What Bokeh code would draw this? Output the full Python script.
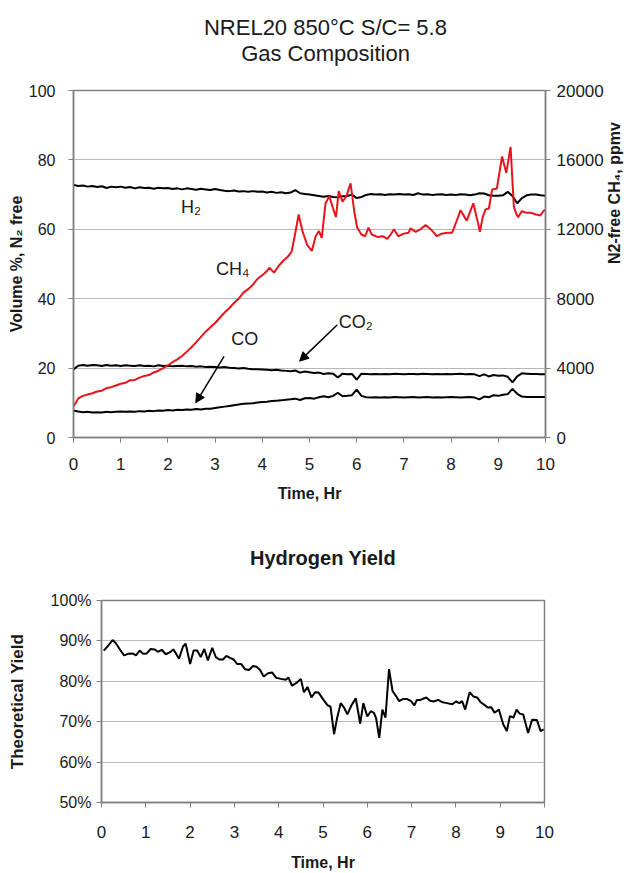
import math
from bokeh.plotting import figure
from bokeh.models import (Range1d, LinearAxis, Title, Label, Arrow, NormalHead,
                          FixedTicker, PrintfTickFormatter)
from bokeh.layouts import column, row
from bokeh.embed import file_html
from bokeh.resources import INLINE

# ---------------- data ----------------
# Gas composition, volume % (N2 free), sampled every 0.1 h
time_hr = [round(i * 0.1, 1) for i in range(101)]
h2_pct = [72.8, 72.5, 72.6, 72.3, 72.5, 72.2, 72.4, 71.9, 72.3, 72.1,
          72.3, 72.0, 72.2, 71.8, 72.1, 71.9, 72.0, 71.7, 72.0, 71.8,
          71.9, 71.6, 71.8, 71.5, 71.8, 71.6, 71.4, 71.7, 71.5, 71.3,
          71.6, 71.3, 71.1, 71.0, 71.2, 70.9, 71.0, 70.8, 71.0, 70.8,
          70.9, 70.6, 70.8, 70.5, 70.7, 70.4, 70.6, 71.3, 70.4, 70.2,
          70.0, 69.8, 69.6, 69.4, 69.6, 69.3, 69.2, 69.5, 69.6, 70.0,
          69.0, 69.3, 69.9, 70.2, 70.0, 70.1, 69.9, 70.1, 70.0, 70.2,
          70.0, 70.1, 69.9, 70.4, 70.0, 70.1, 69.9, 70.0, 70.1, 69.9,
          70.0, 69.9, 70.1, 70.0, 69.8, 70.0, 70.4, 70.3, 69.8, 69.7,
          69.7, 69.8, 70.8, 69.6, 67.5, 69.0, 69.8, 70.0, 70.0, 69.8, 69.7]
co2_pct = [19.6, 20.7, 20.9, 20.7, 20.9, 20.8, 20.6, 20.9, 20.7, 20.8,
           20.6, 20.8, 20.7, 20.6, 20.8, 20.6, 20.7, 20.5, 20.8, 20.6,
           20.7, 20.5, 20.6, 20.7, 20.5, 20.6, 20.4, 20.5, 20.3, 20.4,
           20.3, 20.2, 20.3, 20.1, 20.0, 19.9, 20.0, 19.8, 19.7, 19.7,
           19.6, 19.5, 19.4, 19.5, 19.3, 19.2, 19.1, 19.3, 18.7, 19.0,
           18.8, 18.6, 18.7, 18.3, 18.5, 18.4, 17.3, 18.4, 18.2, 18.3,
           16.7, 18.4, 18.3, 18.2, 18.3, 18.2, 18.3, 18.2, 18.4, 18.3,
           18.2, 18.3, 18.3, 18.2, 18.4, 18.3, 18.2, 18.3, 18.2, 18.3,
           18.2, 18.3, 18.4, 18.2, 18.3, 18.2, 17.7, 18.2, 17.6, 18.0,
           17.8, 17.9, 17.5, 15.9, 17.6, 18.5, 18.4, 18.3, 18.3, 18.2, 18.2]
co_pct = [7.8, 7.5, 7.3, 7.4, 7.2, 7.3, 7.2, 7.4, 7.3, 7.4,
          7.5, 7.4, 7.5, 7.4, 7.6, 7.5, 7.7, 7.6, 7.8, 7.7,
          7.9, 7.8, 8.0, 7.9, 8.1, 8.0, 8.2, 8.1, 8.3, 8.3,
          8.5, 8.7, 8.9, 9.1, 9.3, 9.5, 9.7, 9.8, 9.9, 10.1,
          10.2, 10.3, 10.5, 10.6, 10.7, 10.9, 11.0, 11.2, 10.8, 11.3,
          11.4, 11.2, 11.6, 11.9, 11.6, 12.0, 12.9, 11.9, 12.0, 12.2,
          13.8, 12.0, 11.6, 11.5, 11.6, 11.5, 11.6, 11.5, 11.7, 11.6,
          11.5, 11.6, 11.7, 11.5, 11.6, 11.7, 11.5, 11.6, 11.5, 11.6,
          11.7, 11.6, 11.5, 11.6, 11.7, 11.5, 11.0, 11.8, 11.6, 12.2,
          12.0, 12.3, 12.5, 14.0, 12.6, 11.8, 11.7, 11.7, 11.7, 11.7, 11.7]

# N2-free CH4, ppmv
ch4_time = [0.0, 0.05, 0.1, 0.2, 0.3, 0.4, 0.5, 0.6, 0.7, 0.8, 0.9, 1.0, 1.1, 1.2,
            1.3, 1.4, 1.5, 1.6, 1.7, 1.8, 1.9, 2.0, 2.1, 2.2, 2.3, 2.4, 2.5, 2.6,
            2.7, 2.8, 2.9, 3.0, 3.1, 3.2, 3.3, 3.4, 3.5, 3.6, 3.7, 3.8, 3.9, 4.0,
            4.1, 4.15, 4.25, 4.35, 4.45, 4.55, 4.62, 4.7, 4.77, 4.85, 4.95, 5.05,
            5.13, 5.2, 5.26, 5.34, 5.42, 5.5, 5.56, 5.62, 5.7, 5.78, 5.87, 5.95,
            6.01, 6.1, 6.18, 6.25, 6.32, 6.45, 6.55, 6.65, 6.72, 6.79, 6.88, 7.0,
            7.1, 7.14, 7.25, 7.35, 7.46, 7.55, 7.62, 7.7, 7.8, 7.92, 8.02, 8.1,
            8.2, 8.33, 8.47, 8.55, 8.61, 8.67, 8.73, 8.8, 8.87, 8.97, 9.08, 9.17,
            9.26, 9.33, 9.38, 9.42, 9.5, 9.6, 9.7, 9.8, 9.89, 9.97, 10.0]
ch4_ppmv = [1800, 2000, 2250, 2400, 2480, 2550, 2650, 2700, 2850, 2900, 3000, 3100,
            3150, 3300, 3320, 3450, 3550, 3600, 3750, 3850, 4000, 4150, 4350, 4500,
            4700, 4950, 5200, 5500, 5800, 6100, 6350, 6600, 6900, 7200, 7450, 7750,
            8000, 8350, 8550, 8800, 9150, 9350, 9600, 9780, 9500, 9900, 10200, 10450,
            10700, 11800, 12850, 11900, 11100, 10750, 11600, 11900, 11500, 13500,
            13900, 13200, 12700, 14200, 13600, 13900, 14650, 13000, 12100, 11700,
            11600, 12100, 11700, 11550, 11600, 11450, 11700, 12000, 11600, 11750,
            11800, 12050, 11850, 12000, 12250, 12050, 11850, 11600, 11750, 11800,
            11800, 12350, 13100, 12500, 13500, 12600, 11850, 12700, 13150, 13200,
            14300, 14350, 16200, 15250, 16750, 13300, 12900, 12700, 13050, 12950,
            12950, 12850, 12800, 13100, 13100]

# Hydrogen yield, % of theoretical
yield_time = [0.05, 0.15, 0.25, 0.32, 0.42, 0.51, 0.6, 0.7, 0.78, 0.86, 0.94, 1.02,
              1.11, 1.2, 1.27, 1.36, 1.45, 1.55, 1.62, 1.68, 1.75, 1.84, 1.9, 2.0,
              2.08, 2.16, 2.24, 2.32, 2.4, 2.5, 2.58, 2.66, 2.74, 2.82, 2.9, 2.98,
              3.06, 3.15, 3.24, 3.33, 3.42, 3.5, 3.58, 3.66, 3.76, 3.85, 3.94, 4.05,
              4.16, 4.22, 4.3, 4.4, 4.5, 4.57, 4.65, 4.74, 4.82, 4.9, 5.0, 5.1, 5.17,
              5.25, 5.32, 5.4, 5.48, 5.55, 5.64, 5.74, 5.84, 5.91, 6.0, 6.08, 6.15,
              6.2, 6.27, 6.34, 6.41, 6.49, 6.57, 6.65, 6.72, 6.8, 6.9, 6.99, 7.06,
              7.12, 7.2, 7.33, 7.42, 7.5, 7.6, 7.7, 7.8, 7.92, 8.0, 8.08, 8.14, 8.21,
              8.31, 8.4, 8.48, 8.56, 8.65, 8.72, 8.8, 8.87, 8.97, 9.07, 9.15, 9.22,
              9.3, 9.37, 9.44, 9.52, 9.63, 9.72, 9.83, 9.91, 9.98]
yield_pct = [87.6, 88.8, 90.2, 89.5, 87.8, 86.4, 86.8, 86.9, 86.4, 87.6, 86.8, 86.9,
             88.0, 87.9, 87.3, 87.8, 86.7, 87.2, 87.9, 86.9, 85.6, 88.6, 89.3, 84.3,
             87.6, 87.6, 86.0, 88.0, 85.2, 88.3, 86.0, 85.4, 85.4, 86.3, 85.8, 85.4,
             84.3, 84.3, 83.0, 82.8, 83.8, 83.6, 82.8, 81.2, 82.0, 82.2, 80.9, 80.6,
             80.4, 80.9, 78.9, 79.6, 80.6, 77.3, 78.6, 76.0, 77.3, 77.2, 75.6, 74.1,
             73.7, 66.9, 71.0, 74.6, 73.4, 71.8, 74.0, 75.8, 69.5, 74.6, 71.3, 72.6,
             72.2, 70.8, 66.0, 73.0, 71.0, 83.0, 77.6, 76.3, 75.1, 75.6, 75.6, 75.1,
             74.0, 75.4, 75.4, 76.0, 75.2, 75.0, 75.4, 74.8, 74.6, 74.3, 75.0, 74.6,
             75.1, 73.0, 77.3, 76.2, 76.0, 74.8, 74.1, 73.5, 73.6, 72.2, 73.0, 69.3,
             67.7, 71.4, 71.0, 73.0, 72.0, 71.8, 67.2, 70.5, 70.4, 67.7, 68.1]

x_ticks = [0, 1, 2, 3, 4, 5, 6, 7, 8, 9, 10]
vol_ticks = [0, 20, 40, 60, 80, 100]
ppmv_ticks = [0, 4000, 8000, 12000, 16000, 20000]
yield_ticks = [50, 60, 70, 80, 90, 100]

# ---------------- style ----------------
FONT = "Liberation Sans"
GRID = "#b8b8b8"
AXC = "#808080"
TXT = "#1a1a1a"
RED = "#e8141c"


def style_axis(ax, tick_size="17px"):
    ax.axis_line_color = AXC
    ax.axis_line_width = 1.5
    ax.major_tick_line_color = AXC
    ax.major_tick_out = 5
    ax.major_tick_in = 0
    ax.minor_tick_line_color = None
    ax.major_label_text_font = FONT
    ax.major_label_text_font_size = tick_size
    ax.major_label_text_color = TXT
    ax.axis_label_text_font = FONT
    ax.axis_label_text_font_size = "16px"
    ax.axis_label_text_font_style = "bold"
    ax.axis_label_text_color = TXT


# ---------------- title strip (two centred lines) ----------------
t = figure(width=636, height=70, x_range=Range1d(0, 636), y_range=Range1d(0, 70),
           min_border=0, output_backend="svg", toolbar_location=None, title=None,
           x_axis_location=None, y_axis_location=None)
t.outline_line_color = None
t.grid.visible = False
t.add_layout(Label(x=328, y=43, text="NREL20  850°C S/C= 5.8", text_align="center",
                   text_baseline="middle", text_font=FONT, text_font_size="22px",
                   text_color=TXT))
t.add_layout(Label(x=325, y=17, text="Gas Composition", text_align="center",
                   text_baseline="middle", text_font=FONT, text_font_size="22px",
                   text_color=TXT))

# ---------------- top chart ----------------
p = figure(frame_width=472, frame_height=347,
           min_border_left=73, min_border_right=91,
           min_border_top=20, min_border_bottom=73,
           x_range=Range1d(0, 10), y_range=Range1d(0, 100),
           output_backend="svg", toolbar_location=None, title=None)
p.extra_y_ranges = {"ppmv": Range1d(0, 20000)}

p.xaxis.ticker = FixedTicker(ticks=x_ticks)
p.xaxis.axis_label = "Time, Hr"
p.xaxis.major_label_standoff = 15
p.xaxis.axis_label_standoff = 12
p.yaxis.ticker = FixedTicker(ticks=vol_ticks)
p.yaxis.axis_label = "Volume %, N₂ free"
p.yaxis.major_label_standoff = 13
p.yaxis.axis_label_standoff = 1
style_axis(p.xaxis[0])
style_axis(p.yaxis[0], "16px")

ax_r = LinearAxis(y_range_name="ppmv", ticker=FixedTicker(ticks=ppmv_ticks),
                  axis_label="N2-free CH₄, ppmv")
style_axis(ax_r)
ax_r.major_label_standoff = 6
ax_r.axis_label_standoff = 8
try:
    ax_r.axis_label_orientation = math.pi / 2
except AttributeError:
    pass
p.add_layout(ax_r, "right")

p.xgrid.visible = False
p.ygrid.grid_line_color = GRID
p.ygrid.grid_line_width = 1
p.outline_line_color = AXC
p.outline_line_width = 1.5

p.line(time_hr, h2_pct, color="black", line_width=2)
p.line(time_hr, co2_pct, color="black", line_width=2)
p.line(time_hr, co_pct, color="black", line_width=2)
p.line(ch4_time, ch4_ppmv, color=RED, line_width=2, y_range_name="ppmv")

for (lx, ly, txt) in [(2.49, 66.4, "H₂"), (3.37, 48.7, "CH₄"),
                      (3.63, 28.5, "CO"), (5.98, 33.4, "CO₂")]:
    p.add_layout(Label(x=lx, y=ly, text=txt, text_align="center",
                       text_baseline="middle", text_font=FONT,
                       text_font_size="18px", text_color=TXT))

p.add_layout(Arrow(end=NormalHead(size=9, fill_color="black", line_color="black"),
                   x_start=3.19, y_start=23.4, x_end=2.59, y_end=10.0,
                   line_width=1.5, line_color="black"))
p.add_layout(Arrow(end=NormalHead(size=9, fill_color="black", line_color="black"),
                   x_start=5.59, y_start=32.5, x_end=4.79, y_end=22.0,
                   line_width=1.5, line_color="black"))

# ---------------- bottom chart ----------------
q = figure(frame_width=443, frame_height=202,
           min_border_left=101, min_border_right=92,
           min_border_top=90, min_border_bottom=71,
           x_range=Range1d(0, 10), y_range=Range1d(50, 100),
           output_backend="svg", toolbar_location=None, title=None)
q.add_layout(Title(text="Hydrogen Yield", align="center", text_font=FONT,
                   text_font_size="20px", text_font_style="bold",
                   text_color=TXT, standoff=63), "above")
q.xaxis.ticker = FixedTicker(ticks=x_ticks)
q.xaxis.axis_label = "Time, Hr"
q.xaxis.major_label_standoff = 18
q.xaxis.axis_label_standoff = 13
q.yaxis.ticker = FixedTicker(ticks=yield_ticks)
q.yaxis.formatter = PrintfTickFormatter(format="%d%%")
q.yaxis.axis_label = "Theoretical Yield"
q.yaxis.major_label_standoff = 5
q.yaxis.axis_label_standoff = 21
style_axis(q.xaxis[0])
style_axis(q.yaxis[0], "16px")
q.yaxis.axis_label_text_font_size = "17px"
q.xgrid.visible = False
q.ygrid.grid_line_color = GRID
q.outline_line_color = AXC
q.outline_line_width = 1.5

q.line(yield_time, yield_pct, color="black", line_width=2)

layout = column(row(t), row(p), row(q), spacing=0)
open("out.html", "w").write(file_html(layout, INLINE))
